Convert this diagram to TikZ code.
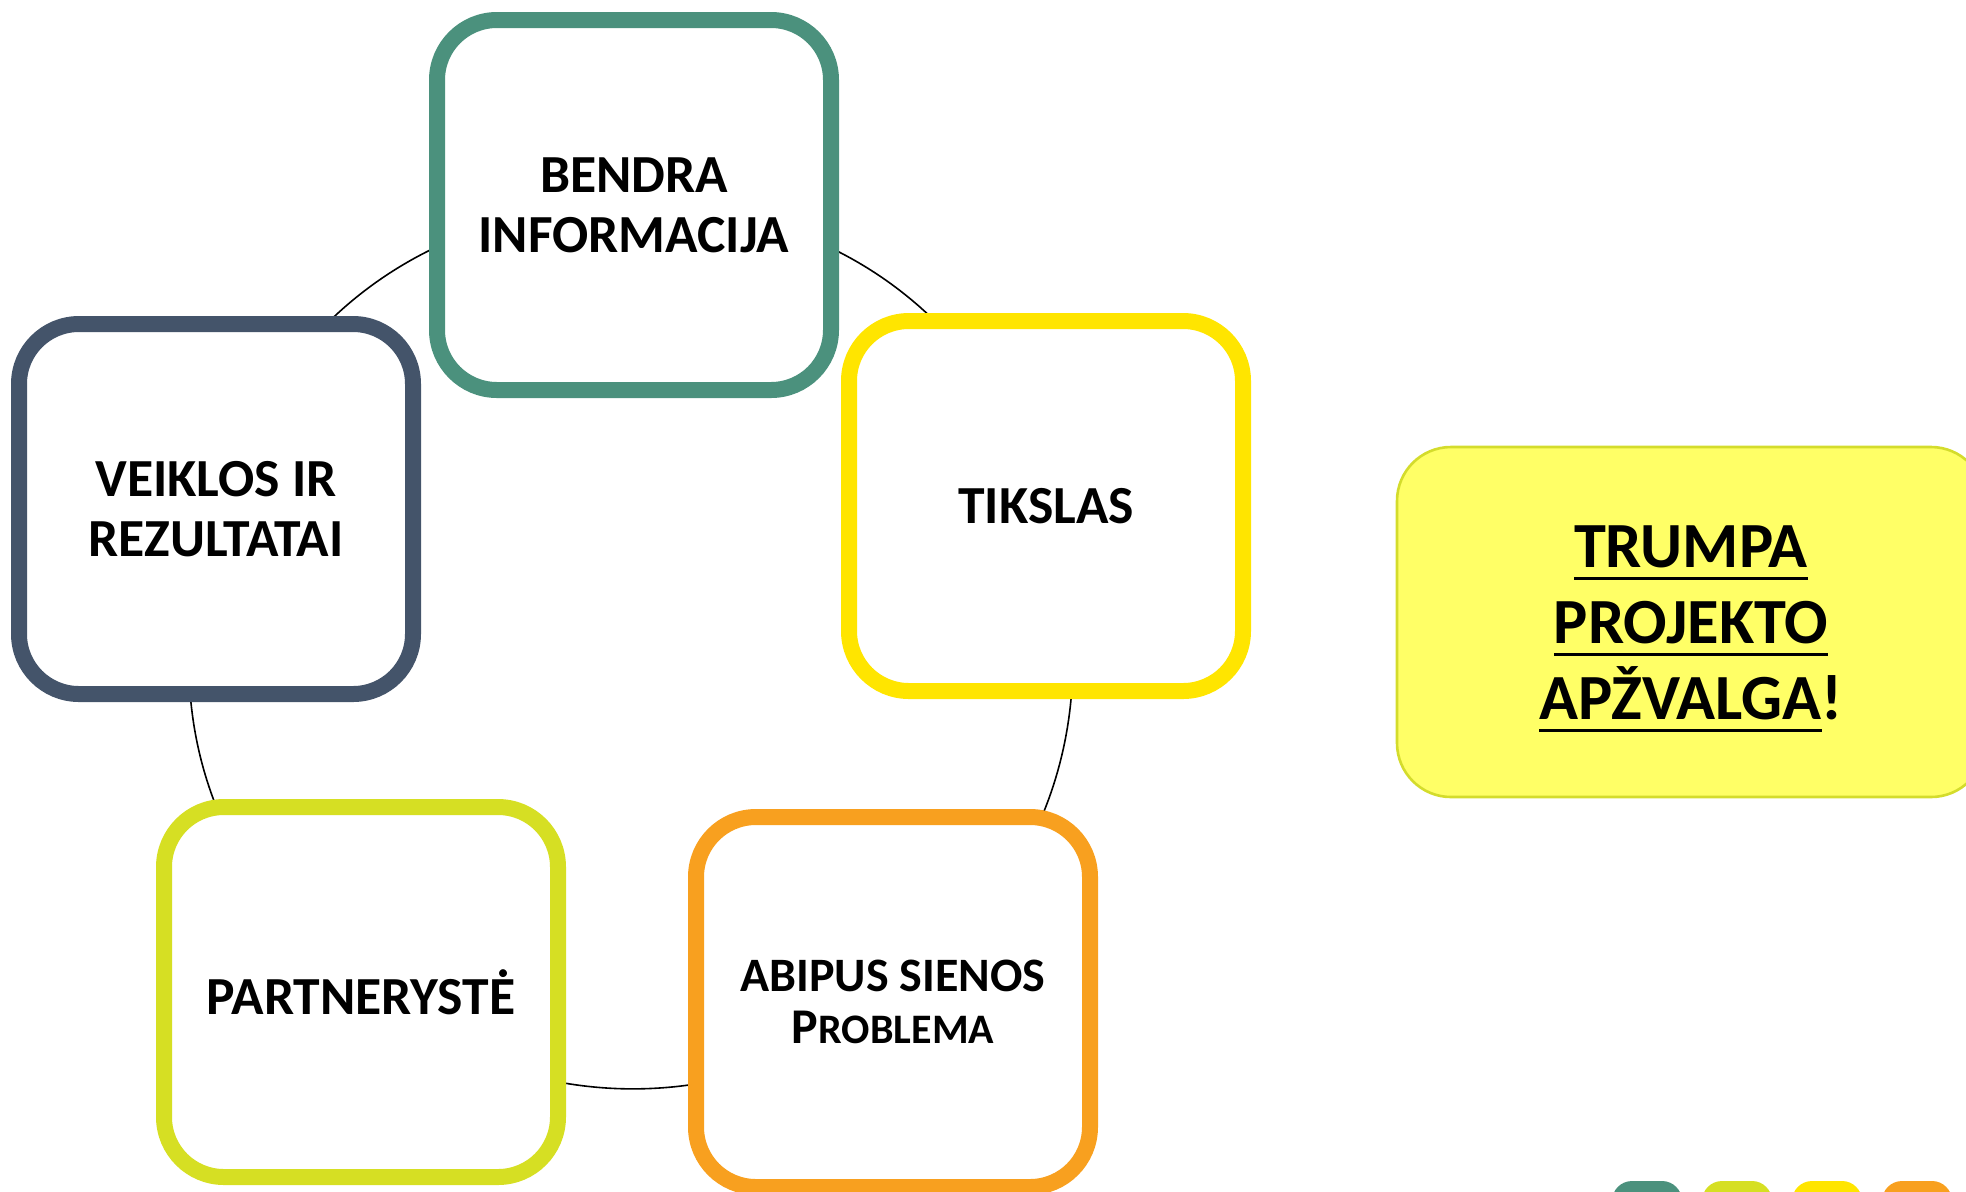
\documentclass[tikz,border=0pt]{standalone}
\usepackage{fontspec}
\setmainfont{Carlito}
\usetikzlibrary{backgrounds}

\definecolor{infogreen}{HTML}{4B917D}
\definecolor{goalyellow}{HTML}{FFE500}
\definecolor{issueorange}{HTML}{F8A01F}
\definecolor{partnerlime}{HTML}{D6DF23}
\definecolor{actslate}{HTML}{44546A}
\definecolor{summaryfill}{HTML}{FFFF66}
\definecolor{summaryedge}{HTML}{D4DC2C}

\newcommand{\ulword}[1]{\setbox0\hbox{#1}\rlap{\rule[-6pt]{\wd0}{1.5pt}}\box0}

\begin{document}
\begin{tikzpicture}[x=0.5pt, y=-0.5pt,
    box/.style={draw, line width=8pt, fill=white, rounded corners=30pt,
      minimum width=197pt, minimum height=185pt, align=center,
      font=\bfseries\fontsize{26.8pt}{30pt}\selectfont},
    link/.style={line width=0.8pt}]
  \useasboundingbox (0,0) rectangle (1966,1191);
  \clip (0,0) rectangle (1966,1191);
  % the five steps
  \node[box, draw=infogreen] (info) at (634,205) {BENDRA\\INFORMACIJA};
  \node[box, draw=goalyellow] (tikslas) at (1046,506) {TIKSLAS};
  \node[box, draw=issueorange, font=\bfseries\fontsize{24pt}{26.3pt}\selectfont] (problema) at (893,1002)
    {ABIPUS SIENOS\\{\fontsize{25pt}{26.3pt}\selectfont P}{\fontsize{21pt}{26.3pt}\selectfont ROBLEMA}};
  \node[box, draw=partnerlime] (partneryste) at (361,992) {PARTNERYSTĖ};
  \node[box, draw=actslate] (veiklos) at (216,509) {VEIKLOS IR\\REZULTATAI};
  \begin{scope}[on background layer]
    \draw[link] (info.center) to[bend left=36] (tikslas.center);
    \draw[link] (tikslas.center) to[bend left=36] (problema.center);
    \draw[link] (problema.center) to[bend left=36] (partneryste.center);
    \draw[link] (partneryste.center) to[bend left=36] (veiklos.center);
    \draw[link] (veiklos.center) to[bend left=36] (info.center);
  \end{scope}
  % summary box on the right
  \node[draw=summaryedge, line width=1.3pt, fill=summaryfill, rounded corners=27pt,
    minimum width=294pt, minimum height=175pt] (apzvalga) at (1691,622) {};
  \node[align=center, font=\bfseries\fontsize{32.2pt}{38pt}\selectfont] (apzvalgatext) at (1691,629)
    {\ulword{TRUMPA}\\\ulword{PROJEKTO}\\\ulword{APŽVALGA}!};
  % little tabs at the bottom edge
  \foreach \c [count=\i] in {infogreen, partnerlime, goalyellow, issueorange}
    \fill[\c, rounded corners=10pt] ({1612+(\i-1)*90},1181) rectangle +(70,60);
\end{tikzpicture}
\end{document}
